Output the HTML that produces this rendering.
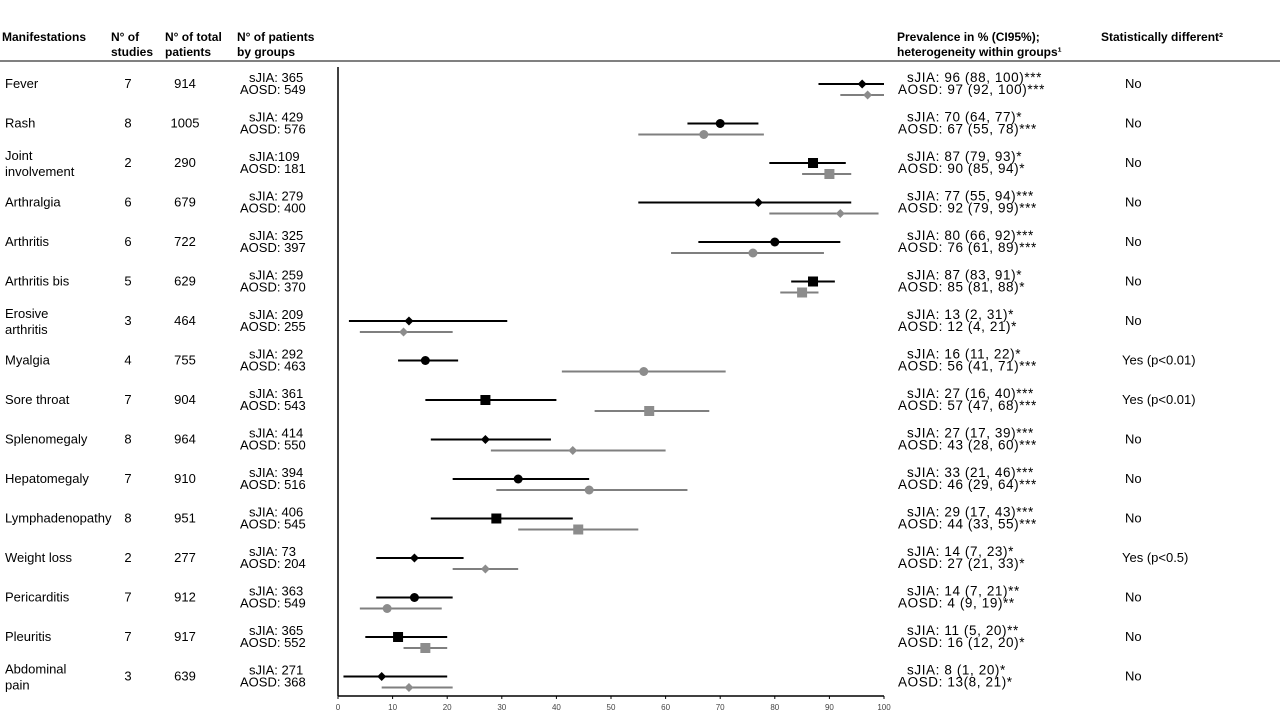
<!DOCTYPE html>
<html><head><meta charset="utf-8"><style>
body{margin:0;background:#fff;}
svg{display:block;font-family:"Liberation Sans",sans-serif;}
</style></head><body>
<svg id="chart" width="1280" height="720" viewBox="0 0 1280 720">
<g font-size="12" font-weight="bold" fill="#000">
<text x="2" y="41">Manifestations</text>
<text x="111" y="41">N° of</text><text x="111" y="56">studies</text>
<text x="165" y="41">N° of total</text><text x="165" y="56">patients</text>
<text x="237" y="41">N° of patients</text><text x="237" y="56">by groups</text>
<text x="897" y="41">Prevalence in % (CI95%);</text>
<text x="897" y="56">heterogeneity within groups¹</text>
<text x="1101" y="41">Statistically different²</text>
</g>
<line x1="0" y1="61" x2="1280" y2="61" stroke="#000" stroke-width="1"/>
<g id="rows"></g>
<g id="axis"></g>
</svg>
<script>
const names=[["Fever"],["Rash"],["Joint","involvement"],["Arthralgia"],["Arthritis"],["Arthritis bis"],["Erosive","arthritis"],["Myalgia"],["Sore throat"],["Splenomegaly"],["Hepatomegaly"],["Lymphadenopathy"],["Weight loss"],["Pericarditis"],["Pleuritis"],["Abdominal","pain"]];
const studies=[7,8,2,6,6,5,3,4,7,8,7,8,2,7,7,3];
const totals=[914,1005,290,679,722,629,464,755,904,964,910,951,277,912,917,639];
const nSjia=["sJIA: 365","sJIA: 429","sJIA:109","sJIA: 279","sJIA: 325","sJIA: 259","sJIA: 209","sJIA: 292","sJIA: 361","sJIA: 414","sJIA: 394","sJIA: 406","sJIA: 73","sJIA: 363","sJIA: 365","sJIA: 271"];
const nAosd=["AOSD: 549","AOSD: 576","AOSD: 181","AOSD: 400","AOSD: 397","AOSD: 370","AOSD: 255","AOSD: 463","AOSD: 543","AOSD: 550","AOSD: 516","AOSD: 545","AOSD: 204","AOSD: 549","AOSD: 552","AOSD: 368"];
const sjiaEst=[96,70,87,77,80,87,13,16,27,27,33,29,14,14,11,8];
const sjiaLo=[88,64,79,55,66,83,2,11,16,17,21,17,7,7,5,1];
const sjiaHi=[100,77,93,94,92,91,31,22,40,39,46,43,23,21,20,20];
const aosdEst=[97,67,90,92,76,85,12,56,57,43,46,44,27,9,16,13];
const aosdLo=[92,55,85,79,61,81,4,41,47,28,29,33,21,4,12,8];
const aosdHi=[100,78,94,99,89,88,21,71,68,60,64,55,33,19,20,21];
const shapes=["diamond","circle","square","diamond","circle","square","diamond","circle","square","diamond","circle","square","diamond","circle","square","diamond"];
const prevSjia=["sJIA: 96 (88, 100)***","sJIA: 70 (64, 77)*","sJIA: 87 (79, 93)*","sJIA: 77 (55, 94)***","sJIA: 80 (66, 92)***","sJIA: 87 (83, 91)*","sJIA: 13 (2, 31)*","sJIA: 16 (11, 22)*","sJIA: 27 (16, 40)***","sJIA: 27 (17, 39)***","sJIA: 33 (21, 46)***","sJIA: 29 (17, 43)***","sJIA: 14 (7, 23)*","sJIA: 14 (7, 21)**","sJIA: 11 (5, 20)**","sJIA: 8 (1, 20)*"];
const prevAosd=["AOSD: 97 (92, 100)***","AOSD: 67 (55, 78)***","AOSD: 90 (85, 94)*","AOSD: 92 (79, 99)***","AOSD: 76 (61, 89)***","AOSD: 85 (81, 88)*","AOSD: 12 (4, 21)*","AOSD: 56 (41, 71)***","AOSD: 57 (47, 68)***","AOSD: 43 (28, 60)***","AOSD: 46 (29, 64)***","AOSD: 44 (33, 55)***","AOSD: 27 (21, 33)*","AOSD: 4 (9, 19)**","AOSD: 16 (12, 20)*","AOSD: 13(8, 21)*"];
const diffs=["No","No","No","No","No","No","No","Yes (p<0.01)","Yes (p<0.01)","No","No","No","Yes (p<0.5)","No","No","No"];
const ticks=[0,10,20,30,40,50,60,70,80,90,100];

const NS="http://www.w3.org/2000/svg";
const x0=338,x1=884,axisY=696;
const xs=v=>x0+(x1-x0)*v/100;
const rowY=i=>84+i*39.5;
function mk(tag,attrs,parent,txt){const e=document.createElementNS(NS,tag);for(const k in attrs)e.setAttribute(k,attrs[k]);if(txt!==undefined)e.textContent=txt;parent.appendChild(e);return e;}
const rows=document.getElementById('rows');
function marker(shape,cx,cy,col,g){
 let e;
 if(shape==="diamond")e=mk('polygon',{points:`${cx},${cy-4.5} ${cx+4.5},${cy} ${cx},${cy+4.5} ${cx-4.5},${cy}`,fill:col},g);
 else if(shape==="circle")e=mk('circle',{cx:cx,cy:cy,r:4.5,fill:col},g);
 else e=mk('rect',{x:cx-5,y:cy-5,width:10,height:10,fill:col},g);
 return e;
}
names.forEach((nm,i)=>{
 const y=rowY(i);
 const g=mk('g',{},rows);
 
 
 const nameT=mk('text',{x:5,'font-size':13},g);
 
 
 if(nm.length===1){mk('tspan',{x:5,y:y+4},nameT,nm[0]);}
 else{mk('tspan',{x:5,y:y-3},nameT,nm[0]);mk('tspan',{x:5,y:y+13},nameT,nm[1]);}
 const st=mk('text',{x:128,y:y+4,'font-size':13,'text-anchor':'middle'},g,studies[i]);
 
 
 const tt=mk('text',{x:185,y:y+4,'font-size':13,'text-anchor':'middle'},g,totals[i]);
 
 
 const a=mk('text',{x:249,y:y-2,'font-size':13},g,nSjia[i]);
 
 
 const b=mk('text',{x:240,y:y+10,'font-size':13},g,nAosd[i]);
 
 
 const p1=mk('text',{x:907,y:y-2,'font-size':13.5,'letter-spacing':0.6},g,prevSjia[i]);
 
 
 const p2=mk('text',{x:898,y:y+10,'font-size':13.5,'letter-spacing':0.6},g,prevAosd[i]);
 
 
 const d=mk('text',{x:diffs[i]==="No"?1125:1122,y:y+4,'font-size':13},g,diffs[i]);
 
 
 const ci1=mk('line',{x1:xs(sjiaLo[i]),x2:xs(sjiaHi[i]),y1:y,y2:y,stroke:'#000','stroke-width':2},g);
 
 
 const m1=marker(shapes[i],xs(sjiaEst[i]),y,'#000',g);
 
 
 const ya=y+11;
 const ci2=mk('line',{x1:xs(aosdLo[i]),x2:xs(aosdHi[i]),y1:ya,y2:ya,stroke:'#7f7f7f','stroke-width':2},g);
 
 
 const m2=marker(shapes[i],xs(aosdEst[i]),ya,'#8c8c8c',g);
 
 
});
const ax=document.getElementById('axis');
const yl=mk('line',{x1:x0,x2:x0,y1:67,y2:axisY,stroke:'#000','stroke-width':1.5},ax);


const xl=mk('line',{x1:x0,x2:x1,y1:axisY,y2:axisY,stroke:'#000','stroke-width':1.5},ax);


ticks.forEach(t=>{
 const tm=mk('line',{x1:xs(t),x2:xs(t),y1:axisY,y2:axisY+3,stroke:'#000','stroke-width':1},ax);
 
 
 const tl=mk('text',{x:xs(t),y:axisY+14,'font-size':8,'text-anchor':'middle',fill:'#444'},ax,t);
 
 
});
</script>
</body></html>
